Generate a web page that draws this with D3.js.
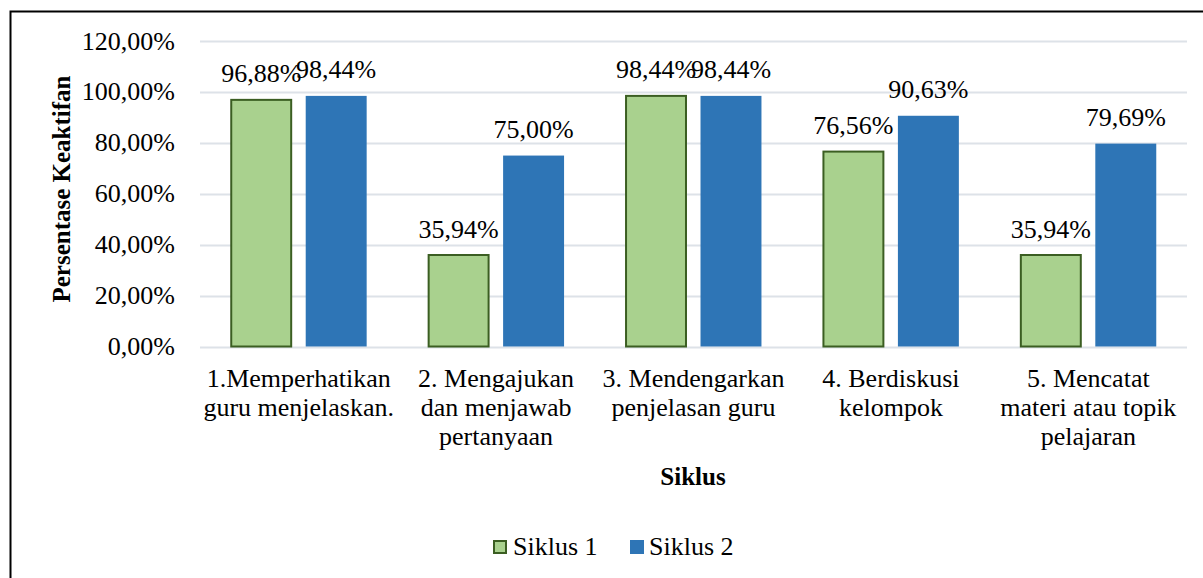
<!DOCTYPE html>
<html>
<head>
<meta charset="utf-8">
<script src="https://cdn.jsdelivr.net/npm/d3@7"></script>
<style>
  body { margin: 0; background: #fff; }
</style>
</head>
<body>
<div id="chart"></div>
<script>
const categories = [
  ["1.Memperhatikan", "guru menjelaskan."],
  ["2. Mengajukan", "dan menjawab", "pertanyaan"],
  ["3. Mendengarkan", "penjelasan guru"],
  ["4. Berdiskusi", "kelompok"],
  ["5. Mencatat", "materi atau topik", "pelajaran"]
];
const seriesNames = ["Siklus 1", "Siklus 2"];
const siklus1 = [96.88, 35.94, 98.44, 76.56, 35.94];
const siklus2 = [98.44, 75.00, 98.44, 90.63, 79.69];
const yTicks = [0, 20, 40, 60, 80, 100, 120];

const fills = ["#A9D18E", "#2E75B6"];
const strokes = ["#3B5E22", "none"];
const FONT = "'Liberation Serif', 'Times New Roman', Tinos, 'DejaVu Serif', serif";
const FS = 26;
const FSB = 25;

const W = 1203, H = 578;
const margin = { left: 200, right: 16, top: 41, bottom: 231 };

const svg = d3.select("#chart").append("svg")
  .attr("width", W).attr("height", H)
  .attr("font-family", FONT);

// outer frame (extends past right/bottom)
svg.append("rect")
  .attr("x", 10.5).attr("y", 11.5)
  .attr("width", W + 20).attr("height", H + 20)
  .attr("fill", "none").attr("stroke", "#000").attr("stroke-width", 2);

const x0 = d3.scaleBand()
  .domain(d3.range(categories.length))
  .range([margin.left, W - margin.right]);

const x1 = d3.scaleBand()
  .domain(d3.range(seriesNames.length))
  .range([0, x0.bandwidth()])
  .paddingInner(0.187)
  .paddingOuter(0.41);

const y = d3.scaleLinear().domain([0, 120]).range([H - margin.bottom - 0.5, margin.top]);

// grid
svg.append("g").selectAll("line").data(yTicks).join("line")
  .attr("x1", margin.left).attr("x2", W - margin.right)
  .attr("y1", d => Math.round(y(d)) + 0.5).attr("y2", d => Math.round(y(d)) + 0.5)
  .attr("stroke", "#DDE2E8").attr("stroke-width", 2);

// y tick labels
svg.append("g").selectAll("text").data(yTicks).join("text")
  .attr("x", 175).attr("y", d => y(d) + 8.5)
  .attr("text-anchor", "end")
  .attr("font-size", FS)
  .text(d => d3.format(".2f")(d).replace(".", ",") + "%");

const data = categories.map((c, i) => [siklus1[i], siklus2[i]]);

const groups = svg.append("g").selectAll("g").data(data).join("g")
  .attr("transform", (d, i) => `translate(${x0(i)},0)`);

groups.selectAll("rect").data(d => d).join("rect")
  .attr("x", (d, j) => x1(j) + (j === 0 ? 0.5 : 0))
  .attr("y", d => y(d))
  .attr("width", (d, j) => x1.bandwidth() - (j === 0 ? 1 : 0))
  .attr("height", d => y(0) - y(d))
  .attr("fill", (d, j) => fills[j])
  .attr("stroke", (d, j) => strokes[j])
  .attr("stroke-width", 2);

groups.selectAll("text").data(d => d).join("text")
  .attr("x", (d, j) => x1(j) + x1.bandwidth() / 2)
  .attr("y", d => y(d) - 17.5)
  .attr("text-anchor", "middle")
  .attr("font-size", FS)
  .text(d => d3.format(".2f")(d).replace(".", ",") + "%");

// category labels
const catG = svg.append("g").selectAll("text").data(categories).join("text")
  .attr("text-anchor", "middle")
  .attr("font-size", FS)
  .attr("x", (d, i) => x0(i) + x0.bandwidth() / 2)
  .attr("y", 387);
catG.selectAll("tspan").data(d => d).join("tspan")
  .attr("x", function () { return d3.select(this.parentNode).attr("x"); })
  .attr("dy", (d, k) => k === 0 ? 0 : 29)
  .text(d => d);

// axis titles
svg.append("text")
  .attr("x", 693).attr("y", 485)
  .attr("text-anchor", "middle")
  .attr("font-size", FSB).attr("font-weight", "bold")
  .text("Siklus");

svg.append("text")
  .attr("transform", "translate(70,189) rotate(-90)")
  .attr("text-anchor", "middle")
  .attr("font-size", FSB).attr("font-weight", "bold")
  .text("Persentase Keaktifan");

// legend
const legendX = [493, 630];
const leg = svg.append("g").selectAll("g").data(seriesNames).join("g")
  .attr("transform", (d, i) => `translate(${legendX[i]},540)`);
leg.append("rect")
  .attr("x", (d, i) => i === 0 ? 1 : 0).attr("y", (d, i) => i === 0 ? 1 : 0)
  .attr("width", (d, i) => i === 0 ? 12 : 14).attr("height", (d, i) => i === 0 ? 12 : 14)
  .attr("fill", (d, i) => fills[i])
  .attr("stroke", (d, i) => strokes[i]).attr("stroke-width", 2);
leg.append("text")
  .attr("x", (d, i) => i === 0 ? 20 : 19).attr("y", 15)
  .attr("font-size", FS)
  .text(d => d);
</script>
</body>
</html>
